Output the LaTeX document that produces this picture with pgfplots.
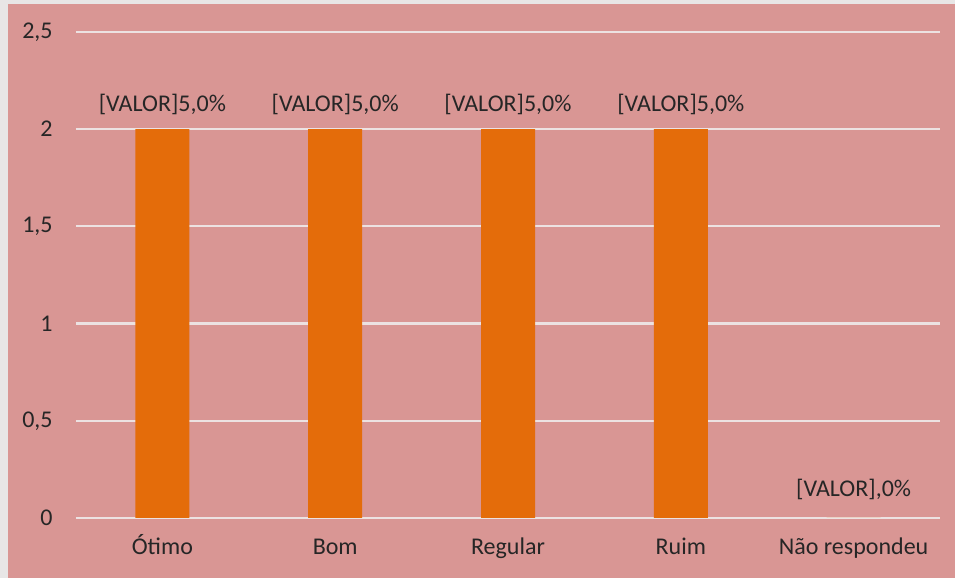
\documentclass[border=0pt]{standalone}
\usepackage{fontspec}
\setmainfont{Carlito}
\usepackage{pgfplots}
\pgfplotsset{compat=1.18}
\definecolor{bgpink}{RGB}{217,150,148}
\definecolor{barorange}{RGB}{228,108,10}
\definecolor{gridc}{RGB}{236,226,226}
\definecolor{txt}{RGB}{38,38,38}
\definecolor{margin}{RGB}{232,230,230}
\begin{document}
\begin{tikzpicture}
% chart area (plot box lower left sits at 0,0)
\fill[margin] (-38pt,-30pt) rectangle (439.5pt,259pt);
\fill[bgpink] (-34pt,-30pt) rectangle (439.5pt,257pt);
\begin{axis}[
  scale only axis, width=432pt, height=243pt,
  xmin=-0.5, xmax=4.5, ymin=0, ymax=2.5,
  xtick={0,1,2,3,4},
  xticklabels={Ótimo,Bom,Regular,Ruim,Não respondeu},
  ytick={0,0.5,1,1.5,2,2.5},
  /pgf/number format/use comma,
  /pgf/number format/assume math mode=true,
  axis line style={draw=none},
  major tick length=0pt,
  ymajorgrids, grid style={gridc, line width=1.1pt},
  font=\fontsize{12}{14}\selectfont, text=txt,
  yticklabel style={anchor=east, inner sep=0pt, xshift=-11.5pt},
  xticklabel style={anchor=base, inner sep=0pt, yshift=-18.5pt},
  ybar, bar width=27pt, bar shift=0pt,
  clip=false,
]
\addplot[fill=barorange, draw=none,
  nodes near coords={[VALOR]5,0\%},
  every node near coord/.append style={anchor=base, inner sep=0pt, yshift=8.7pt, text=txt}]
  coordinates {(0,2) (1,2) (2,2) (3,2)};
\addplot[fill=barorange, draw=none,
  nodes near coords={[VALOR],0\%},
  every node near coord/.append style={anchor=base, inner sep=0pt, yshift=10.5pt, text=txt}]
  coordinates {(4,0)};
\end{axis}
\end{tikzpicture}
\end{document}
